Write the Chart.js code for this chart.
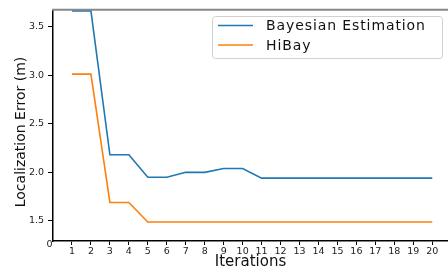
<!DOCTYPE html>
<html>
<head>
<meta charset="utf-8">
<script src="https://cdn.jsdelivr.net/npm/chart.js@4/dist/chart.umd.min.js"></script>
<style>
  html, body { margin: 0; padding: 0; background: #fff; overflow: hidden; }
</style>
</head>
<body>
<canvas id="lineChart" width="448" height="270"></canvas>
<script>
// values
const iterations = [1, 2, 3, 4, 5, 6, 7, 8, 9, 10, 11, 12, 13, 14, 15, 16, 17, 18, 19, 20];
const bayesianError = [3.66, 3.66, 2.18, 2.18, 1.95, 1.95, 2.0, 2.0, 2.04, 2.04,
                       1.94, 1.94, 1.94, 1.94, 1.94, 1.94, 1.94, 1.94, 1.94, 1.94];
const hibayError = [3.01, 3.01, 1.69, 1.69, 1.49, 1.49, 1.49, 1.49, 1.49, 1.49,
                    1.49, 1.49, 1.49, 1.49, 1.49, 1.49, 1.49, 1.49, 1.49, 1.49];
const seriesNames = ['Bayesian Estimation', 'HiBay'];
const yTicks = [1.5, 2.0, 2.5, 3.0, 3.5];
const yBreakLabel = '0';
const xTitle = 'Iterations';
const yTitle = 'Localization Error (m)';

const FONT = '"DejaVu Sans", sans-serif';

// legend, top frame line, "0" break label and y title
const decorations = {
    id: 'decorations',
    afterDraw(chart) {
        const ctx = chart.ctx;
        const area = chart.chartArea;
        ctx.save();

        // grey top frame
        ctx.strokeStyle = '#888';
        ctx.lineWidth = 2;
        ctx.beginPath();
        ctx.moveTo(area.left - 1, area.top);
        ctx.lineTo(chart.width, area.top);
        ctx.stroke();

        // "0" label at the axis corner
        ctx.fillStyle = '#222';
        ctx.font = '9.5px ' + FONT;
        ctx.textAlign = 'center';
        ctx.textBaseline = 'middle';
        ctx.fillText(yBreakLabel, area.left - 3.5, area.bottom + 4);

        // y title
        ctx.save();
        ctx.translate(21, 132);
        ctx.rotate(-Math.PI / 2);
        ctx.font = '14px ' + FONT;
        ctx.fillStyle = '#111';
        ctx.fillText(yTitle, 0, 0);
        ctx.restore();

        // legend box
        const bx = 212, by = 16, bw = 230, bh = 42;
        ctx.fillStyle = 'rgba(255,255,255,0.85)';
        ctx.strokeStyle = '#d0d0d0';
        ctx.lineWidth = 1;
        ctx.beginPath();
        ctx.roundRect(bx + 0.5, by + 0.5, bw, bh, 3);
        ctx.fill();
        ctx.stroke();

        ctx.font = '14px ' + FONT;
        ctx.letterSpacing = '0.9px';
        ctx.textAlign = 'left';
        ctx.textBaseline = 'middle';
        chart.data.datasets.forEach((ds, i) => {
            const ly = 25.5 + i * 19.5;
            ctx.strokeStyle = ds.borderColor;
            ctx.lineWidth = 1.5;
            ctx.beginPath();
            ctx.moveTo(218, ly);
            ctx.lineTo(253, ly);
            ctx.stroke();
            ctx.fillStyle = '#111';
            ctx.fillText(ds.label, 266, ly + 1);
        });
        ctx.restore();
    }
};

const ctx = document.getElementById('lineChart').getContext('2d');
new Chart(ctx, {
    type: 'line',
    data: {
        datasets: [{
            label: seriesNames[0],
            data: iterations.map((x, i) => ({ x: x, y: bayesianError[i] })),
            borderColor: '#1f77b4',
            borderWidth: 1.6,
            pointRadius: 0,
            fill: false,
        }, {
            label: seriesNames[1],
            data: iterations.map((x, i) => ({ x: x, y: hibayError[i] })),
            borderColor: '#ff7f0e',
            borderWidth: 1.6,
            pointRadius: 0,
            fill: false,
        }]
    },
    options: {
        responsive: false,
        maintainAspectRatio: false,
        animation: false,
        layout: { padding: { left: 0, top: 9, right: 0, bottom: 0 } },
        plugins: {
            legend: { display: false },
            tooltip: { enabled: false },
        },
        scales: {
            x: {
                type: 'linear',
                min: 0,
                max: 20.83,
                afterBuildTicks: scale => { scale.ticks = iterations.map(v => ({ value: v })); },
                afterFit: scale => { scale.height = 29; },
                ticks: {
                    autoSkip: false,
                    maxRotation: 0,
                    padding: 1,
                    color: '#222',
                    font: { family: FONT, size: 9.5 },
                },
                grid: { drawOnChartArea: false, drawTicks: true, tickLength: 4, color: '#000' },
                border: { display: true, color: '#000', width: 1.5 },
                title: {
                    display: true,
                    text: xTitle,
                    color: '#111',
                    font: { family: FONT, size: 15, lineHeight: 1.0 },
                    padding: { top: 0, bottom: 0 },
                },
            },
            y: {
                type: 'linear',
                min: 1.294,
                max: 3.672,
                afterBuildTicks: scale => { scale.ticks = yTicks.map(v => ({ value: v })); },
                afterFit: scale => { scale.width = 53; },
                ticks: {
                    padding: 4,
                    color: '#222',
                    font: { family: FONT, size: 9.5 },
                    callback: v => v.toFixed(1),
                },
                grid: { drawOnChartArea: false, drawTicks: true, tickLength: 5, color: '#000' },
                border: { display: true, color: '#000', width: 1.5 },
            }
        }
    },
    plugins: [decorations]
});
</script>
</body>
</html>
